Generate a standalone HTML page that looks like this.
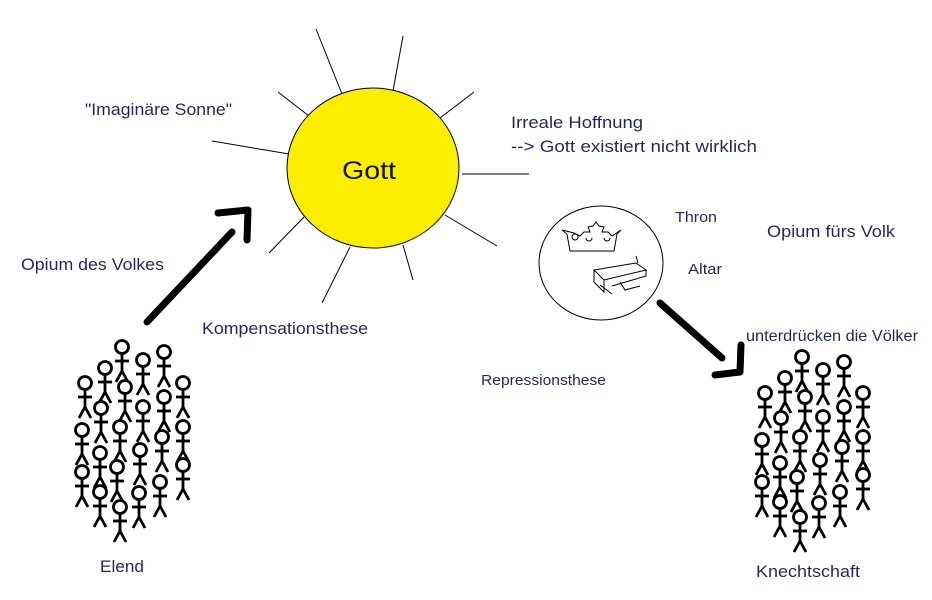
<!DOCTYPE html>
<html><head><meta charset="utf-8"><style>
body{margin:0;background:#fff;width:932px;height:600px;overflow:hidden}
svg{display:block}
text{font-family:"Liberation Sans",sans-serif;fill:#1f2a5a}
</style></head><body>
<svg width="932" height="600" viewBox="0 0 932 600">
<g stroke="#000" stroke-width="1">
<line x1="316" y1="29" x2="342" y2="94"/>
<line x1="403" y1="36" x2="393" y2="91"/>
<line x1="474" y1="92" x2="440" y2="118"/>
<line x1="278" y1="92" x2="309" y2="116"/>
<line x1="212" y1="141" x2="289" y2="154"/>
<line x1="462" y1="174" x2="529" y2="174"/>
<line x1="445" y1="215" x2="497" y2="246"/>
<line x1="304" y1="217" x2="269" y2="253"/>
<line x1="350" y1="247" x2="322" y2="303"/>
<line x1="403" y1="245" x2="413" y2="280"/>
</g>
<ellipse cx="373" cy="168" rx="86" ry="80" fill="#fcee00" stroke="#000" stroke-width="1"/>
<g lengthAdjust="spacingAndGlyphs">
<text x="342" y="179" font-size="25" textLength="54" lengthAdjust="spacingAndGlyphs" style="fill:#111">Gott</text>
<text x="85" y="115" font-size="17" textLength="147" lengthAdjust="spacingAndGlyphs">"Imaginäre Sonne"</text>
<text x="511" y="128" font-size="17" textLength="132" lengthAdjust="spacingAndGlyphs">Irreale Hoffnung</text>
<text x="511" y="152" font-size="17" textLength="246" lengthAdjust="spacingAndGlyphs">--&gt; Gott existiert nicht wirklich</text>
<text x="21" y="270" font-size="17" textLength="143" lengthAdjust="spacingAndGlyphs">Opium des Volkes</text>
<text x="202" y="334" font-size="17" textLength="166" lengthAdjust="spacingAndGlyphs">Kompensationsthese</text>
<text x="675" y="222" font-size="15" textLength="42" lengthAdjust="spacingAndGlyphs">Thron</text>
<text x="688" y="274" font-size="15" textLength="34" lengthAdjust="spacingAndGlyphs">Altar</text>
<text x="767" y="237" font-size="17" textLength="128" lengthAdjust="spacingAndGlyphs">Opium fürs Volk</text>
<text x="746" y="341" font-size="16" textLength="172" lengthAdjust="spacingAndGlyphs">unterdrücken die Völker</text>
<text x="481" y="385" font-size="15" textLength="125" lengthAdjust="spacingAndGlyphs">Repressionsthese</text>
<text x="100" y="572" font-size="17" textLength="44" lengthAdjust="spacingAndGlyphs">Elend</text>
<text x="756" y="577" font-size="17" textLength="104" lengthAdjust="spacingAndGlyphs">Knechtschaft</text>
</g>
<ellipse cx="601" cy="263" rx="62" ry="57" fill="none" stroke="#000" stroke-width="1"/>
<path d="M562 230 L567 234 L570 251 L614 251 L617 234 L621 230 L612 236 L608 232 L602 232 L604 227 L599 226 L596 222 L593 226 L588 227 L590 232 L584 232 L580 236 L574 233 Z" fill="none" stroke="#000" stroke-width="1"/>
<path d="M572 237 a3 3 0 1 0 6 0 a3 3 0 1 0 -6 0 M586 238 a3 3 0 1 0 6 0 M604 238 a3 3 0 1 0 6 0" fill="none" stroke="#000" stroke-width="1"/>
<path d="M594 270 L636 263 L646 270 L604 280 Z M594 270 L594 282 L604 292 L604 280 M646 270 L646 276 L612 286 M638 263 L636 256 M600 285 L612 294 M620 282 L625 290 L640 286" fill="none" stroke="#000" stroke-width="1"/>
<g stroke="#000" stroke-width="7" fill="none" stroke-linecap="round" stroke-linejoin="round">
<line x1="147" y1="322" x2="232" y2="232"/>
<path d="M218 213 L248 210 L247 240"/>
<line x1="660" y1="303" x2="722" y2="358"/>
<path d="M741 345 L740 372 L715 375"/>
</g>
<defs>
<g id="p" stroke="#000" stroke-width="2.8" fill="none">
<circle cx="0" cy="0" r="6.5" fill="#fff"/>
<line x1="0" y1="6" x2="0" y2="24"/>
<line x1="-7" y1="14" x2="7" y2="14"/>
<line x1="0" y1="24" x2="-6" y2="35"/>
<line x1="0" y1="24" x2="6" y2="35"/>
</g>
<g id="grp">
<use href="#p" x="122" y="347"/><use href="#p" x="143" y="360"/><use href="#p" x="164" y="352"/>
<use href="#p" x="105" y="368"/><use href="#p" x="85" y="383"/><use href="#p" x="125" y="387"/>
<use href="#p" x="183" y="383"/><use href="#p" x="164" y="397"/><use href="#p" x="101" y="408"/>
<use href="#p" x="143" y="407"/><use href="#p" x="183" y="427"/><use href="#p" x="120" y="427"/>
<use href="#p" x="82" y="430"/><use href="#p" x="162" y="437"/><use href="#p" x="100" y="453"/>
<use href="#p" x="140" y="450"/><use href="#p" x="183" y="465"/><use href="#p" x="117" y="467"/>
<use href="#p" x="82" y="472"/><use href="#p" x="160" y="482"/><use href="#p" x="100" y="492"/>
<use href="#p" x="139" y="493"/><use href="#p" x="120" y="507"/>
</g>
</defs>
<use href="#grp"/>
<use href="#grp" x="680" y="10"/>
</svg>
</body></html>
